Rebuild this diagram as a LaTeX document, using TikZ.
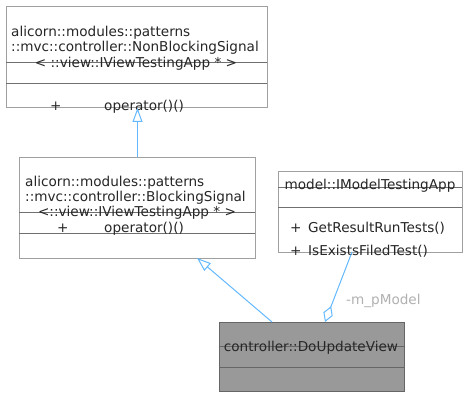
\documentclass[tikz,border=0pt]{standalone}
\usepackage{fontspec}
\setmainfont{DejaVu Sans}
\usetikzlibrary{arrows.meta}
\definecolor{edgeblue}{HTML}{63B8FF}
\definecolor{boxline}{HTML}{A0A0A0}
\definecolor{sepline}{HTML}{707070}
\definecolor{activefill}{HTML}{999999}
\definecolor{activeline}{HTML}{666666}
\definecolor{labelgray}{HTML}{B0B0B0}
\begin{document}
\begin{tikzpicture}[x=1pt,y=-1pt,
  classbox/.style={draw=boxline, fill=white, anchor=north west, inner sep=0pt, line width=0.9pt},
  activebox/.style={draw=activeline, fill=activefill, anchor=north west, inner sep=0pt, line width=0.9pt},
  sep/.style={draw=sepline, line width=0.8pt},
  txt/.style={inner sep=0pt, anchor=base west, font=\fontsize{13.6}{16}\selectfont, text=black!85},
  ctxt/.style={txt, anchor=base},
  edgelabel/.style={txt, text=labelgray},
  inherit/.style={draw=edgeblue, line width=1pt, -{Triangle[open, length=14pt, width=10pt]}},
  aggregate/.style={draw=edgeblue, line width=1pt, -{Diamond[open, length=17pt, width=10pt]}}]
  \useasboundingbox (0,0) rectangle (467,396);

  % class boxes
  \node[classbox, minimum width=261pt, minimum height=101pt] (b1) at (6,6) {};
  \node[classbox, minimum width=236pt, minimum height=101pt] (b2) at (19,157) {};
  \node[classbox, minimum width=184pt, minimum height=81pt] (b3) at (278,171) {};
  \node[activebox, minimum width=185pt, minimum height=69pt] (b4) at (219,322) {};

  % compartment separators
  \draw[sep] (6,62) -- (267,62);
  \draw[sep] (6,83) -- (267,83);
  \draw[sep] (19,212) -- (255,212);
  \draw[sep] (19,233) -- (255,233);
  \draw[sep] (278,187) -- (462,187);
  \draw[sep] (278,207) -- (462,207);
  \draw[draw=activeline, line width=0.8pt] (219,346) -- (404,346);
  \draw[draw=activeline, line width=0.8pt] (219,367) -- (404,367);

  % NonBlockingSignal
  \node[txt] (t1a) at (11,36.5) {alicorn::modules::patterns};
  \node[txt] (t1b) at (11,52) {::mvc::controller::NonBlockingSignal};
  \node[ctxt] (t1c) at (136,67.5) {< ::view::IViewTestingApp * >};
  \node[txt] (t1d) at (50,111) {+};
  \node[txt] (t1e) at (104,111) {operator()()};

  % BlockingSignal
  \node[txt] (t2a) at (25,186) {alicorn::modules::patterns};
  \node[txt] (t2b) at (25,202) {::mvc::controller::BlockingSignal};
  \node[ctxt] (t2c) at (137,217) {<::view::IViewTestingApp * >};
  \node[txt] (t2d) at (57,233) {+};
  \node[txt] (t2e) at (104,233) {operator()()};

  % IModelTestingApp
  \node[ctxt] (t3a) at (370,190) {model::IModelTestingApp};
  \node[txt] (t3b) at (290,233) {+};
  \node[txt] (t3c) at (308,233) {GetResultRunTests()};
  \node[txt] (t3d) at (290,255) {+};
  \node[txt] (t3e) at (308,255) {IsExistsFiledTest()};

  % DoUpdateView
  \node[ctxt] (t4a) at (311,351.5) {controller::DoUpdateView};

  % relations
  \coordinate (b2top) at (137.5,157);
  \coordinate (b1bot) at (137.5,108);
  \coordinate (b4inh) at (272,322);
  \coordinate (b2bot) at (197,258);
  \coordinate (b3bot) at (352,252);
  \coordinate (b4agg) at (325,322);
  \draw[inherit] (b2top) -- (b1bot);
  \draw[inherit] (b4inh) -- (b2bot);
  \draw[aggregate] (b3bot) -- (b4agg);
  \node[edgelabel] (lbl) at (346,305) {-m\_pModel};
\end{tikzpicture}
\end{document}
